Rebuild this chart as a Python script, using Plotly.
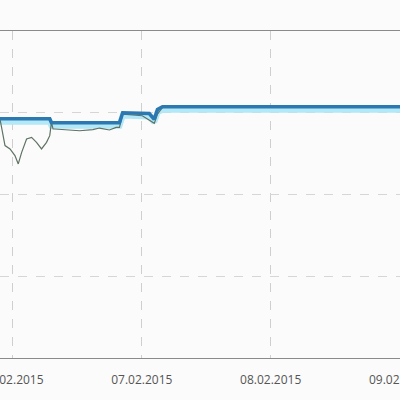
import plotly.graph_objects as go

# timestamps / values
blue_x = ["2015-02-05 21:35", "2015-02-06 06:51", "2015-02-06 07:10", "2015-02-06 19:50",
          "2015-02-06 20:26", "2015-02-07 01:23", "2015-02-07 02:19", "2015-02-07 02:55",
          "2015-02-07 03:51", "2015-02-09 01:00"]
blue_y = [2.927, 2.927, 2.878, 2.878, 3.0, 2.99, 2.92, 3.04, 3.073, 3.073]
glow_y = [2.89, 2.89, 2.84, 2.84, 2.965, 2.955, 2.885, 3.005, 3.038, 3.038]

gray_x = ["2015-02-05 21:35", "2015-02-05 21:55", "2015-02-05 22:31", "2015-02-05 23:27",
          "2015-02-06 00:22", "2015-02-06 00:59", "2015-02-06 01:37", "2015-02-06 02:32",
          "2015-02-06 03:28", "2015-02-06 04:23", "2015-02-06 05:19", "2015-02-06 06:15",
          "2015-02-06 06:51", "2015-02-06 07:10", "2015-02-06 07:28", "2015-02-06 07:47",
          "2015-02-06 09:57", "2015-02-06 12:25", "2015-02-06 14:53", "2015-02-06 16:07",
          "2015-02-06 17:58", "2015-02-06 19:13", "2015-02-06 19:50", "2015-02-06 20:26",
          "2015-02-07 00:05", "2015-02-07 02:19", "2015-02-07 02:55", "2015-02-07 03:51",
          "2015-02-09 01:00"]
gray_y = [2.923, 2.821, 2.598, 2.557, 2.476, 2.374, 2.516, 2.679,
          2.699, 2.638, 2.557, 2.638, 2.720, 2.882, 2.801, 2.801,
          2.789, 2.780, 2.793, 2.813, 2.789, 2.821, 2.821, 2.984,
          2.963, 2.870, 2.984, 3.065, 3.065]

fig = go.Figure()
fig.add_trace(go.Scatter(x=blue_x, y=glow_y, mode="lines",
                         line=dict(color="#b3e8f7", width=6), hoverinfo="skip"))
fig.add_trace(go.Scatter(x=gray_x, y=gray_y, mode="lines",
                         line=dict(color="#5f7263", width=1.2)))
fig.add_trace(go.Scatter(x=blue_x, y=blue_y, mode="lines",
                         line=dict(color="#2c79b2", width=3.6)))

fig.update_layout(
    width=400, height=400,
    margin=dict(l=0, r=0, t=31, b=42, pad=0),
    paper_bgcolor="#fbfbfb", plot_bgcolor="#fbfbfb",
    showlegend=False,
    font=dict(family="Open Sans", size=12, color="#555555"),
)
fig.update_xaxes(
    range=["2015-02-05 21:35", "2015-02-09 00:05"],
    tickformat="%d.%m.%Y", dtick=86400000, tick0="2015-02-06",
    showgrid=True, gridcolor="#cfcfcf", griddash="dash", gridwidth=1,
    showline=True, linecolor="#8a8a8a", linewidth=1, mirror=True,
    ticks="", ticklabelstandoff=11, zeroline=False,
    automargin=False, ticklabeloverflow="allow",
)
fig.update_yaxes(
    range=[0, 4], dtick=1, showticklabels=False,
    showgrid=True, gridcolor="#d6d6d6", griddash="dash", gridwidth=1,
    zeroline=False, automargin=False,
)

# page has a default 8px body margin, drop it so the chart fills the window
fig.write_html("out.html", config={"displayModeBar": False},
               post_script="document.body.style.margin='0';")
